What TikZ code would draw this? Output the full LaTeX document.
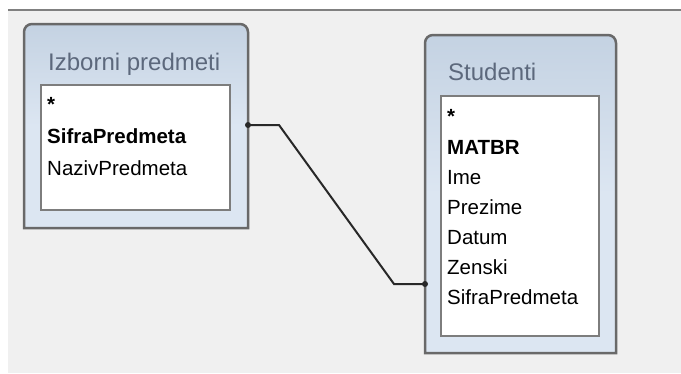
\documentclass[tikz,border=0pt]{standalone}
\usepackage{fontspec}
\setmainfont{Liberation Sans}
\usetikzlibrary{positioning}

\definecolor{panelgray}{RGB}{240,240,240}
\definecolor{rulegray}{RGB}{128,128,128}
\definecolor{framegray}{RGB}{105,105,105}
\definecolor{titleblue}{RGB}{92,104,124}
\definecolor{boxtop}{RGB}{196,210,226}
\definecolor{boxbottom}{RGB}{220,230,242}
\definecolor{listframe}{RGB}{125,125,125}
\definecolor{joinline}{RGB}{40,40,40}

\tikzset{
  tablebox/.style={draw=framegray, line width=2.5pt, top color=boxtop, bottom color=boxbottom, middle color=boxbottom},
  listbox/.style={draw=listframe, line width=1.5pt, fill=white},
  tabletitle/.style={anchor=base west, inner sep=0pt, text=titleblue, font=\fontsize{24}{28}\selectfont},
  fieldtext/.style={anchor=base west, inner sep=0pt, text=black, font=\fontsize{20.5}{24}\selectfont},
  keyfield/.style={fieldtext, font=\fontsize{20.5}{24}\selectfont\bfseries},
  joindot/.style={fill=joinline, draw=none},
}

\begin{document}
\begin{tikzpicture}[x=1pt, y=-1pt]
\useasboundingbox (0,0) rectangle (681,373);
\fill[white] (0,0) rectangle (681,373);
\fill[panelgray] (8,10) rectangle (681,373);
\draw[rulegray, line width=2pt] (8,10) -- (681,10);

% Izborni predmeti
\path[tablebox] (24,228) [rounded corners=8pt] -- (24,24) -- (248,24) [sharp corners] -- (248,228) -- cycle;
\node[tabletitle] (izTitle) at (48,70) {Izborni predmeti};
\path[listbox] (41,85) rectangle (230,210);
\node[fieldtext] (izStar) at (47,111) {\bfseries *};
\node[keyfield] (izSifra) at (47,143) {SifraPredmeta};
\node[fieldtext] (izNaziv) at (47,175) {NazivPredmeta};
\coordinate (izPort) at (248,125);

% Studenti
\path[tablebox] (425,353) [rounded corners=8pt] -- (425,35) -- (616,35) [sharp corners] -- (616,353) -- cycle;
\node[tabletitle] (stTitle) at (448,80) {Studenti};
\path[listbox] (441,96) rectangle (599,336);
\node[fieldtext] (stStar) at (447,123) {\bfseries *};
\node[keyfield] (stMatbr) at (447,154) {MATBR};
\node[fieldtext] (stIme) at (447,184) {Ime};
\node[fieldtext] (stPrezime) at (447,214) {Prezime};
\node[fieldtext] (stDatum) at (447,244) {Datum};
\node[fieldtext] (stZenski) at (447,274) {Zenski};
\node[fieldtext] (stSifra) at (447,304) {SifraPredmeta};
\coordinate (stPort) at (425,284);

% relationship
\draw[joinline, line width=2pt] (izPort) -- ++(31,0) -- ++(115,159) -- (stPort);
\path[joindot] (izPort) circle (3);
\path[joindot] (stPort) circle (3);
\end{tikzpicture}
\end{document}
